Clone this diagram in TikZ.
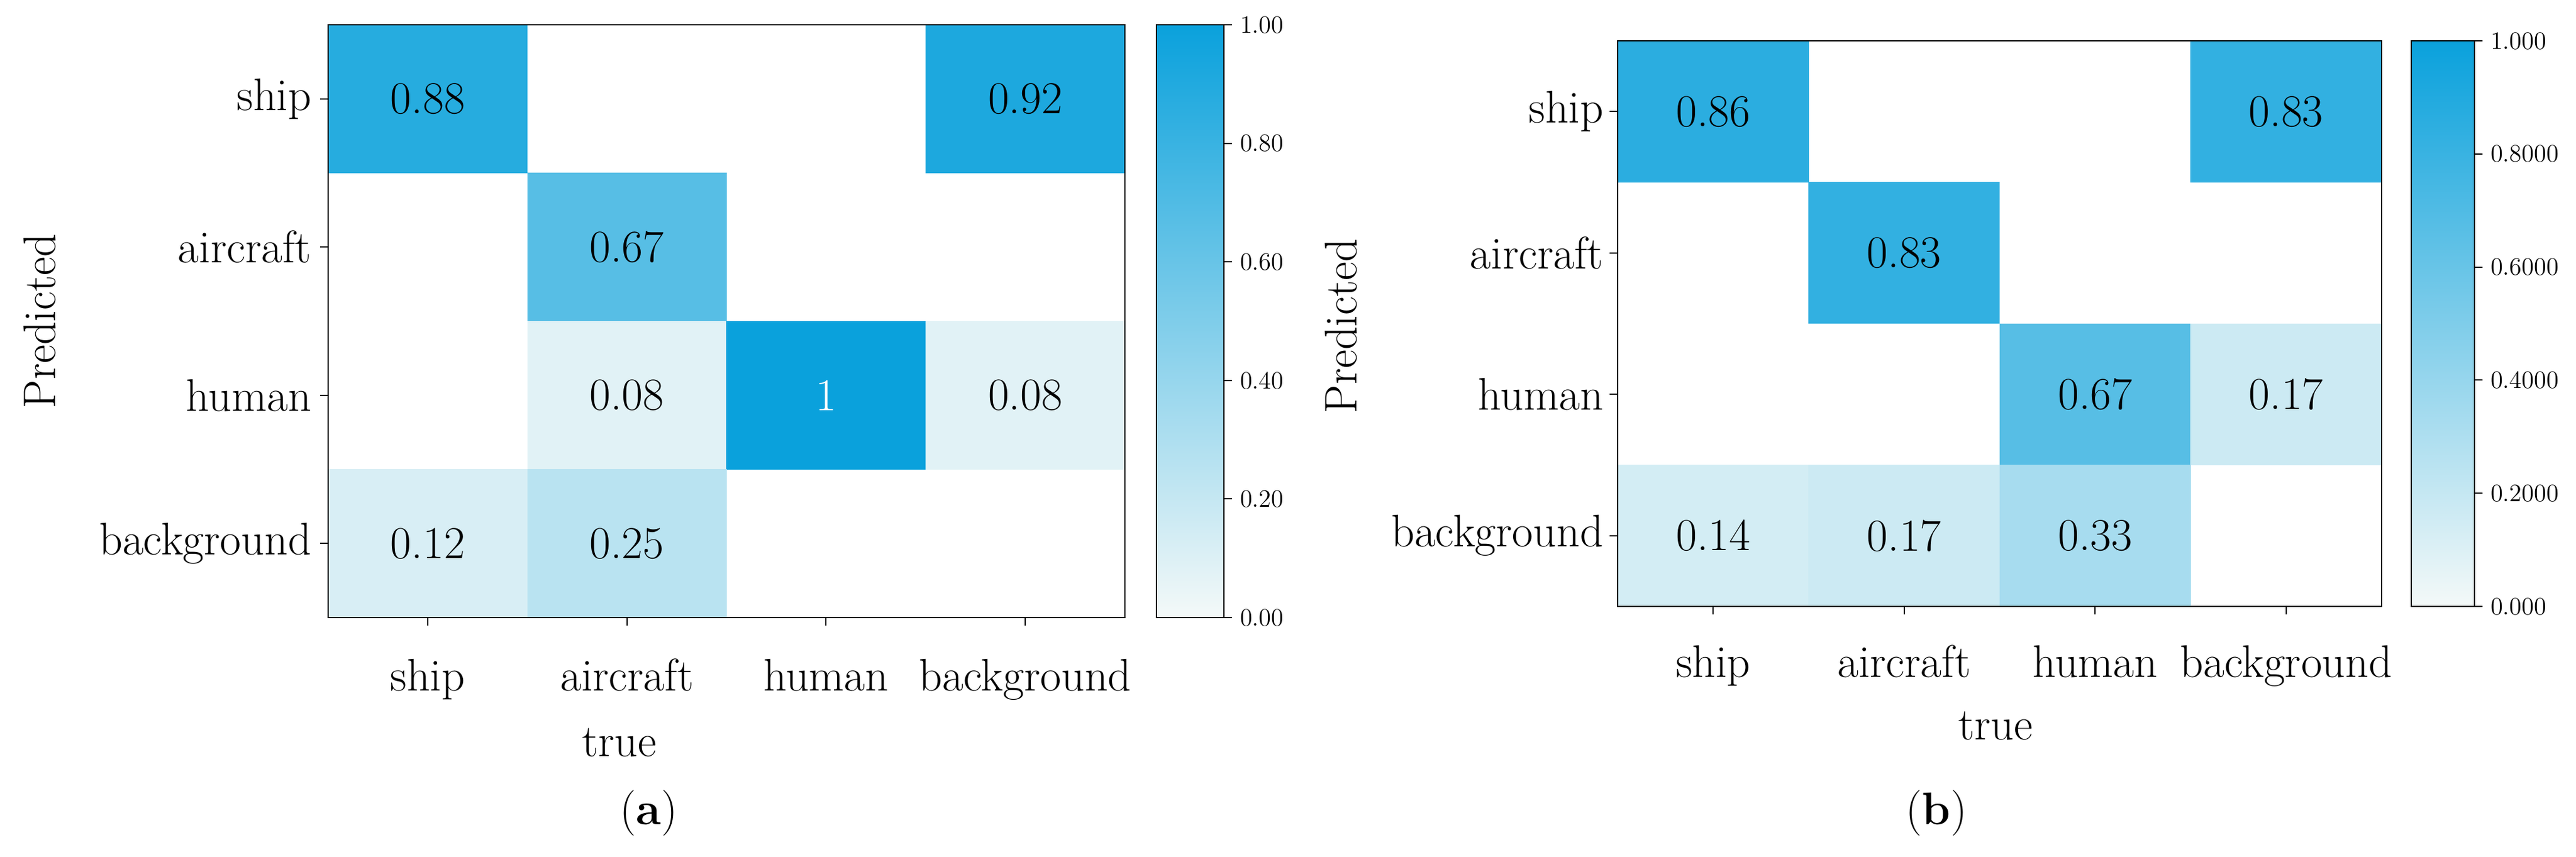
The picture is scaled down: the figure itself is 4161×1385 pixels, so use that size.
\documentclass[tikz,border=0pt]{standalone}
\usepackage{tikz}
\usetikzlibrary{positioning}
\definecolor{cmin}{RGB}{244,249,248}
\definecolor{cmax}{RGB}{10,161,220}
\newcommand\bigfont{\fontsize{21}{25}\selectfont}
\newcommand\tickfont{\fontsize{11.5}{14}\selectfont}
\begin{document}
\begin{tikzpicture}[x=0.01cm, y=-0.01cm, semithick,
cell/.style ={draw=none, inner sep=0pt, font=\bigfont},
lab/.style ={font=\bigfont, inner sep=0pt},
tick/.style ={font=\tickfont, inner sep=0pt, anchor=west}]
\useasboundingbox (0,0) rectangle (4161,1385);

% panel (a)
\begin{scope}[shift={(530,40)}]
\foreach \r/\c/\v/\t/\tc in {1/1/88/0.88/black, 1/4/92/0.92/black, 2/2/67/0.67/black,
    3/2/8/0.08/black, 3/3/100/1/white, 3/4/8/0.08/black, 4/1/12/0.12/black, 4/2/25/0.25/black}
  \node[cell, fill=cmax!\v!cmin, text=\tc, minimum width=3.2175cm, minimum height=2.395cm]
    (a-\r-\c) at ({(\c-0.5)*321.75},{(\r-0.5)*239.5}) {\t};
\draw (0,0) rectangle (1287,958);
\foreach \n [count=\i] in {ship,aircraft,human,background} {
  \draw (0,{(\i-0.5)*239.5}) -- (-13,{(\i-0.5)*239.5});
  \node[lab, anchor=east] (ay\i) at (-26,{(\i-0.5)*239.5}) {\n};
  \draw ({(\i-0.5)*321.75},958) -- ({(\i-0.5)*321.75},971);
  \node[lab, anchor=base] (ax\i) at ({(\i-0.5)*321.75},1076) {\n};
}
\node[lab, anchor=base] (atrue) at (470,1182) {true};
\node[lab, rotate=90] (apred) at (-466,479) {Predicted};
\node[lab, anchor=base] (acap) at (518,1292) {(\textbf{a})};
% colorbar
\shade[bottom color=cmin, top color=cmax] (1338,0) rectangle (1447,958);
\draw (1338,0) rectangle (1447,958);
\foreach \k/\l in {0/0.00,1/0.20,2/0.40,3/0.60,4/0.80,5/1.00} {
  \draw (1447,{958-\k*191.6}) -- (1460,{958-\k*191.6});
  \node[tick] (at\k) at (1472,{958-\k*191.6}) {\l};
}
\end{scope}

% panel (b)
\begin{scope}[shift={(2613,66)}]
\foreach \r/\c/\v/\t in {1/1/86/0.86, 1/4/83/0.83, 2/2/83/0.83, 3/3/67/0.67,
    3/4/17/0.17, 4/1/14/0.14, 4/2/17/0.17, 4/3/33/0.33}
  \node[cell, fill=cmax!\v!cmin, minimum width=3.085cm, minimum height=2.285cm]
    (b-\r-\c) at ({(\c-0.5)*308.5},{(\r-0.5)*228.5}) {\t};
\draw (0,0) rectangle (1234,914);
\foreach \n [count=\i] in {ship,aircraft,human,background} {
  \draw (0,{(\i-0.5)*228.5}) -- (-13,{(\i-0.5)*228.5});
  \node[lab, anchor=east] (by\i) at (-22,{(\i-0.5)*228.5}) {\n};
  \draw ({(\i-0.5)*308.5},914) -- ({(\i-0.5)*308.5},927);
  \node[lab, anchor=base] (bx\i) at ({(\i-0.5)*308.5},1028) {\n};
}
\node[lab, anchor=base] (btrue) at (610,1129) {true};
\node[lab, rotate=90] (bpred) at (-447,461) {Predicted};
\node[lab, anchor=base] (bcap) at (515,1266) {(\textbf{b})};
% colorbar
\shade[bottom color=cmin, top color=cmax] (1282,0) rectangle (1384,914);
\draw (1282,0) rectangle (1384,914);
\foreach \k/\l in {0/0.000,1/0.2000,2/0.4000,3/0.6000,4/0.8000,5/1.000} {
  \draw (1384,{914-\k*182.8}) -- (1397,{914-\k*182.8});
  \node[tick] (bt\k) at (1409,{914-\k*182.8}) {\l};
}
\end{scope}
\end{tikzpicture}
\end{document}
